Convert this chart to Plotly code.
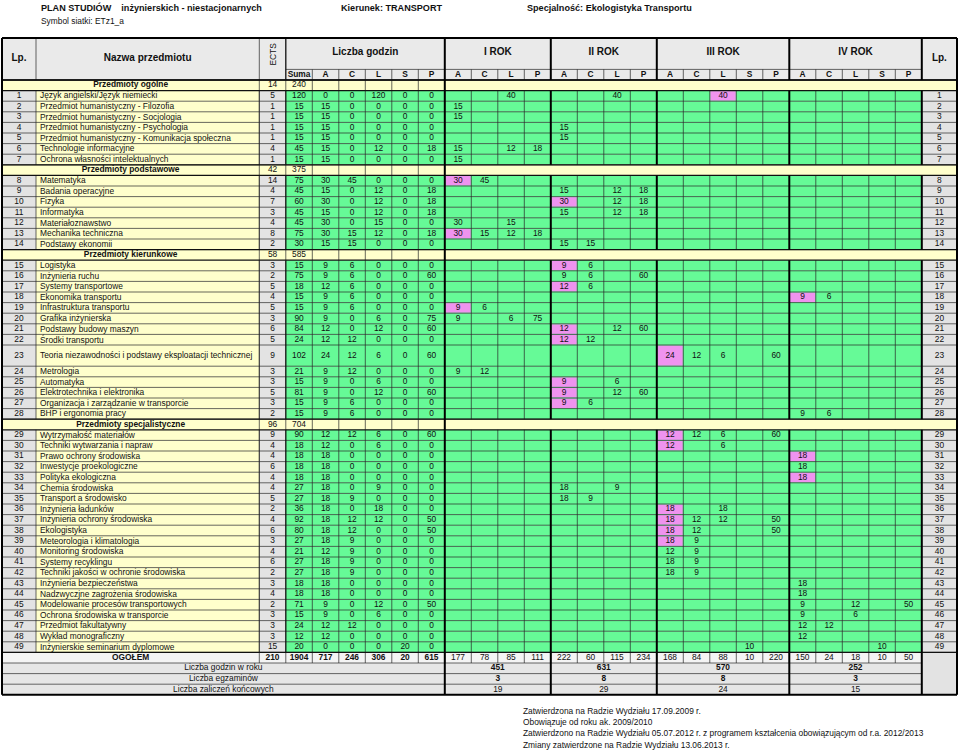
import plotly.graph_objects as go

# ---- dane ----
names = [
    "Język angielski/Język niemiecki",
    "Przedmiot humanistyczny - Filozofia",
    "Przedmiot humanistyczny - Socjologia",
    "Przedmiot humanistyczny - Psychologia",
    "Przedmiot humanistyczny - Komunikacja społeczna",
    "Technologie informacyjne",
    "Ochrona własności intelektualnych",
    "Matematyka",
    "Badania operacyjne",
    "Fizyka",
    "Informatyka",
    "Materiałoznawstwo",
    "Mechanika techniczna",
    "Podstawy ekonomii",
    "Logistyka",
    "Inżynieria ruchu",
    "Systemy transportowe",
    "Ekonomika transportu",
    "Infrastruktura transportu",
    "Grafika inżynierska",
    "Podstawy budowy maszyn",
    "Środki transportu",
    "Teoria niezawodności i podstawy eksploatacji technicznej",
    "Metrologia",
    "Automatyka",
    "Elektrotechnika i elektronika",
    "Organizacja i zarządzanie w transporcie",
    "BHP i ergonomia pracy",
    "Wytrzymałość materiałów",
    "Techniki wytwarzania i napraw",
    "Prawo ochrony środowiska",
    "Inwestycje proekologiczne",
    "Polityka ekologiczna",
    "Chemia środowiska",
    "Transport a środowisko",
    "Inżynieria ładunków",
    "Inżynieria ochrony środowiska",
    "Ekologistyka",
    "Meteorologia i klimatologia",
    "Monitoring środowiska",
    "Systemy recyklingu",
    "Techniki jakości w ochronie środowiska",
    "Inżynieria bezpieczeństwa",
    "Nadzwyczjne zagrożenia środowiska",
    "Modelowanie procesów transportowych",
    "Ochrona środowiska w transporcie",
    "Przedmiot fakultatywny",
    "Wykład monograficzny",
    "Inżynierskie seminarium dyplomowe",
]

ects = [5, 1, 1, 1, 1, 4, 1,
        14, 4, 7, 3, 4, 8, 2,
        3, 2, 5, 4, 5, 3, 6, 5, 9, 3, 3, 5, 3, 2,
        9, 4, 4, 6, 4, 4, 5, 2, 4, 6, 3, 4, 6, 2, 3, 4, 2, 3, 3, 3, 15]
suma = [120, 15, 15, 15, 15, 45, 15,
        75, 45, 60, 45, 45, 75, 30,
        15, 75, 18, 15, 15, 90, 84, 24, 102, 21, 15, 81, 15, 15,
        90, 18, 18, 18, 18, 27, 27, 36, 92, 80, 27, 21, 27, 27, 18, 18, 71, 15, 24, 12, 20]
godz_A = [0, 15, 15, 15, 15, 15, 15,
          30, 15, 30, 15, 30, 30, 15,
          9, 9, 12, 9, 9, 9, 12, 12, 24, 9, 9, 9, 9, 9,
          12, 12, 18, 18, 18, 18, 18, 18, 18, 18, 18, 12, 18, 18, 18, 18, 9, 9, 12, 12, 0]
godz_C = [0, 0, 0, 0, 0, 0, 0,
          45, 0, 0, 0, 0, 15, 15,
          6, 6, 6, 6, 6, 0, 0, 12, 12, 12, 0, 0, 6, 6,
          12, 0, 0, 0, 0, 0, 9, 0, 12, 12, 9, 9, 9, 9, 0, 0, 0, 0, 12, 0, 0]
godz_L = [120, 0, 0, 0, 0, 12, 0,
          0, 12, 12, 12, 15, 12, 0,
          0, 0, 0, 0, 0, 6, 12, 0, 6, 0, 6, 12, 0, 0,
          6, 6, 0, 0, 0, 9, 0, 18, 12, 0, 0, 0, 0, 0, 0, 0, 12, 6, 0, 0, 0]
godz_S = [0] * 48 + [20]
godz_P = [0, 0, 0, 0, 0, 18, 0,
          0, 18, 18, 18, 0, 18, 0,
          0, 60, 0, 0, 0, 75, 60, 0, 60, 0, 0, 60, 0, 0,
          60, 0, 0, 0, 0, 0, 0, 0, 50, 50, 0, 0, 0, 0, 0, 0, 50, 0, 0, 0, 0]

sekcje = [("Przedmioty ogólne", 1, 14, 240),
          ("Przedmioty podstawowe", 8, 42, 375),
          ("Przedmioty kierunkowe", 15, 58, 585),
          ("Przedmioty specjalistyczne", 29, 96, 704)]

# (lp, forma, godziny)
rok1 = [(1, "L", 40), (2, "A", 15), (3, "A", 15), (6, "A", 15), (6, "L", 12), (6, "P", 18), (7, "A", 15),
        (8, "A", 30), (8, "C", 45), (12, "A", 30), (12, "L", 15), (13, "A", 30), (13, "C", 15),
        (13, "L", 12), (13, "P", 18), (19, "A", 9), (19, "C", 6), (20, "A", 9), (20, "L", 6),
        (20, "P", 75), (24, "A", 9), (24, "C", 12)]
rok2 = [(1, "L", 40), (4, "A", 15), (5, "A", 15), (9, "A", 15), (9, "L", 12), (9, "P", 18),
        (10, "A", 30), (10, "L", 12), (10, "P", 18), (11, "A", 15), (11, "L", 12), (11, "P", 18),
        (14, "A", 15), (14, "C", 15), (15, "A", 9), (15, "C", 6), (16, "A", 9), (16, "C", 6),
        (16, "P", 60), (17, "A", 12), (17, "C", 6), (21, "A", 12), (21, "L", 12), (21, "P", 60),
        (22, "A", 12), (22, "C", 12), (25, "A", 9), (25, "L", 6), (26, "A", 9), (26, "L", 12),
        (26, "P", 60), (27, "A", 9), (27, "C", 6), (34, "A", 18), (34, "L", 9), (35, "A", 18), (35, "C", 9)]
rok3 = [(1, "L", 40), (23, "A", 24), (23, "C", 12), (23, "L", 6), (23, "P", 60),
        (29, "A", 12), (29, "C", 12), (29, "L", 6), (29, "P", 60), (30, "A", 12), (30, "L", 6),
        (36, "A", 18), (36, "L", 18), (37, "A", 18), (37, "C", 12), (37, "L", 12), (37, "P", 50),
        (38, "A", 18), (38, "C", 12), (38, "P", 50), (39, "A", 18), (39, "C", 9), (40, "A", 12),
        (40, "C", 9), (41, "A", 18), (41, "C", 9), (42, "A", 18), (42, "C", 9), (49, "S", 10)]
rok4 = [(18, "A", 9), (18, "C", 6), (28, "A", 9), (28, "C", 6), (31, "A", 18), (32, "A", 18),
        (33, "A", 18), (43, "A", 18), (44, "A", 18), (45, "A", 9), (45, "L", 12), (45, "P", 50),
        (46, "A", 9), (46, "L", 6), (47, "A", 12), (47, "C", 12), (48, "A", 12), (49, "S", 10)]

# egzaminy (komorki rozowe): (rok, lp, forma)
egzaminy = [(0, 8, "A"), (0, 13, "A"), (0, 19, "A"),
            (1, 10, "A"), (1, 15, "A"), (1, 17, "A"), (1, 21, "A"), (1, 22, "A"),
            (1, 25, "A"), (1, 26, "A"), (1, 27, "A"),
            (2, 1, "L"), (2, 23, "A"), (2, 29, "A"), (2, 30, "A"), (2, 36, "A"),
            (2, 37, "A"), (2, 38, "A"), (2, 39, "A"),
            (3, 18, "A"), (3, 31, "A"), (3, 33, "A")]

ogolem_ects = 210
ogolem_godz = [1904, 717, 246, 306, 20, 615]
ogolem_lata = [[177, 78, 85, 111], [222, 60, 115, 234], [168, 84, 88, 10, 220], [150, 24, 18, 10, 50]]
godziny_w_roku = [451, 631, 570, 252]
liczba_egzaminow = [3, 8, 8, 3]
liczba_zaliczen = [19, 29, 24, 15]

lata = [("I ROK", ["A", "C", "L", "P"], rok1),
        ("II ROK", ["A", "C", "L", "P"], rok2),
        ("III ROK", ["A", "C", "L", "S", "P"], rok3),
        ("IV ROK", ["A", "C", "L", "S", "P"], rok4)]
godz_cols = ["Suma", "A", "C", "L", "S", "P"]

# ---- geometria ----
FONT = "Liberation Sans, Arial, sans-serif"
FS = 8.4
X_L, X_LP, X_NAZ, X_R = 2, 36, 259.3, 957
CW = 26.5
Y_TOP, Y_SUB, Y_BODY, RH = 38, 69.4, 80, 10.6

HEAD_BG = "#eaeaea"
YEL = "#ffffcc"
GRAY = "#e3e3e3"
GREEN = "#66fa97"
PINK = "#ef93ef"
OG_BG = "#f4f4f4"


def ce(i):
    return X_NAZ + CW * i


def cx(i):
    return X_NAZ + CW * (i + 0.5)


year_start = []
k = 7
for _, cols, _ in lata:
    year_start.append(k)
    k += len(cols)
X_END = ce(k)  # 25 columns

shapes = []


def rect(x0, x1, y0, y1, color):
    shapes.append(dict(type="rect", xref="x", yref="y", x0=x0, x1=x1, y0=y0, y1=y1,
                       fillcolor=color, line=dict(width=0), layer="below"))


lines = {"thin": ([], []), "mid": ([], []), "thick": ([], [])}


def seg(kind, x0, y0, x1, y1):
    lines[kind][0].extend([x0, x1, None])
    lines[kind][1].extend([y0, y1, None])


txt = dict(x=[], y=[], t=[], s=[], c=[])


def put(x, y, t, size=FS, bold=False, color="#111"):
    txt["x"].append(x)
    txt["y"].append(y)
    txt["t"].append("<b>%s</b>" % t if bold else str(t))
    txt["s"].append(size)
    txt["c"].append(color)


annotations = []


def left_text(x, y, t, size=FS, bold=False, yshift=0):
    annotations.append(dict(x=x, y=y, xref="x", yref="y", text="<b>%s</b>" % t if bold else t,
                            showarrow=False, xanchor="left", yanchor="middle", yshift=yshift,
                            font=dict(family=FONT, size=size, color="#111")))


# ---- naglowek ----
rect(X_L, X_R, Y_TOP, Y_BODY, HEAD_BG)
put((X_L + X_LP) / 2, 58.5, "Lp.", 10, True)
put((X_LP + X_NAZ) / 2, 58.5, "Nazwa przedmiotu", 10, True)
put(X_END + (X_R - X_END) / 2, 58.5, "Lp.", 10, True)
annotations.append(dict(x=cx(0), y=54, xref="x", yref="y", text="ECTS", textangle=-90,
                        showarrow=False, font=dict(family=FONT, size=FS, color="#111")))
put((ce(1) + ce(7)) / 2, 52.5, "Liczba godzin", 10, True)
for j, c in enumerate(godz_cols):
    put(cx(1 + j), 74.7, c, FS, True)
for (lab, cols, _), s in zip(lata, year_start):
    put((ce(s) + ce(s + len(cols))) / 2, 52.5, lab, 10, True)
    for j, c in enumerate(cols):
        put(cx(s + j), 74.7, c, FS, True)

seg("thin", ce(1), Y_SUB, X_END, Y_SUB)
for i in [X_LP, X_NAZ]:
    seg("thin", i, Y_TOP, i, Y_BODY)
seg("mid", ce(1), Y_TOP, ce(1), Y_BODY)
for i in range(2, 25):
    if i not in year_start:
        seg("thin", ce(i), Y_SUB, ce(i), Y_BODY)
seg("mid", X_L, Y_BODY, X_R, Y_BODY)

# ---- wiersze ----
exam_set = {(r, lp, f) for r, lp, f in egzaminy}
cell_vals = {}
for r, (_, cols, wpisy) in enumerate(lata):
    for lp, f, v in wpisy:
        cell_vals[(lp, year_start[r] + cols.index(f))] = (v, (r, lp, f) in exam_set)

y = Y_BODY
block_start = None
blocks = []
for lp in range(1, 50):
    for nazwa, first, s_ects, s_suma in sekcje:
        if first == lp:
            if block_start is not None:
                blocks.append((block_start, y))
            y0, y1 = y, y + RH
            rect(X_L, X_R, y0, y1, YEL)
            ym = (y0 + y1) / 2
            put((X_L + X_NAZ) / 2, ym, nazwa, FS, True)
            put(cx(0), ym, s_ects)
            put(cx(1), ym, s_suma)
            seg("mid", X_L, y0, X_R, y0)
            seg("mid", X_L, y1, X_R, y1)
            for i in range(0, 7):
                seg("thin", ce(i), y0, ce(i), y1)
            y = y1
            block_start = y
    i = lp - 1
    hgt = 2 * RH if lp == 23 else RH
    y0, y1 = y, y + hgt
    ym = (y0 + y1) / 2
    rect(X_L, X_LP, y0, y1, GRAY)
    rect(X_LP, X_NAZ, y0, y1, YEL)
    rect(ce(0), ce(1), y0, y1, GRAY)
    rect(ce(1), X_END, y0, y1, GREEN)
    rect(X_END, X_R, y0, y1, GRAY)
    put((X_L + X_LP) / 2, ym, lp)
    put(X_END + (X_R - X_END) / 2, ym, lp)
    left_text(X_LP + 1.5, ym, names[i], yshift=0.5)
    put(cx(0), ym, ects[i])
    for j, v in enumerate([suma[i], godz_A[i], godz_C[i], godz_L[i], godz_S[i], godz_P[i]]):
        put(cx(1 + j), ym, v)
    for (lpk, col), (v, pink) in cell_vals.items():
        if lpk == lp:
            if pink:
                rect(ce(col) + 0.5, ce(col + 1) - 0.5, y0 + 0.5, y1 - 0.5, PINK)
            put(cx(col), ym, v)
    seg("thin", X_L, y1, X_R, y1)
    y = y1
blocks.append((block_start, y))

for b0, b1 in blocks:
    for xv in [X_LP, X_NAZ] + [ce(i) for i in range(0, 25)]:
        if xv in [ce(s) for s in year_start]:
            continue
        seg("mid" if xv == ce(1) else "thin", xv, b0, xv, b1)

# ---- OGOLEM i podsumowania ----
y0, y1 = y, y + RH
ym = (y0 + y1) / 2
rect(X_L, X_END, y0, y1, OG_BG)
rect(X_END, X_R, y0, y0 + 4 * RH, GRAY)
put((X_L + X_NAZ) / 2, ym, "OGÓŁEM", FS, True)
put(cx(0), ym, ogolem_ects, FS, True)
for j, v in enumerate(ogolem_godz):
    put(cx(1 + j), ym, v, FS, True)
for r, vals in enumerate(ogolem_lata):
    for j, v in enumerate(vals):
        put(cx(year_start[r] + j), ym, v)
seg("mid", X_L, y0, X_R, y0)
for i in range(0, 25):
    seg("thin", ce(i), y0, ce(i), y1)
y_og = y0
y = y1

bottom_rows = [("Liczba godzin w roku", godziny_w_roku, True),
               ("Liczba egzaminów", liczba_egzaminow, True),
               ("Liczba zaliczeń końcowych", liczba_zaliczen, False)]
for lab, vals, bold in bottom_rows:
    y0, y1 = y, y + RH
    ym = (y0 + y1) / 2
    rect(X_L, X_END, y0, y1, "#e6e6e6")
    seg("thin", X_L, y0, X_END, y0)
    put((X_L + ce(7)) / 2, ym, lab)
    for r, v in enumerate(vals):
        s = year_start[r]
        put((ce(s) + ce(s + len(lata[r][1]))) / 2, ym, v, FS, bold)
    y = y1
Y_BOT = y

# pionowe linie grube: granice lat
for s in year_start + [25]:
    if s == 7:
        seg("thick", ce(s), Y_TOP, ce(s), Y_BOT)
    else:
        seg("thick", ce(s), Y_TOP, ce(s), Y_BODY)
        for b0, b1 in blocks:
            seg("thick", ce(s), b0, ce(s), b1)
        seg("thick", ce(s), y_og, ce(s), Y_BOT)

# ramka
for a in [(X_L, Y_TOP, X_R, Y_TOP), (X_L, Y_BOT, X_R, Y_BOT),
          (X_L, Y_TOP, X_L, Y_BOT), (X_R, Y_TOP, X_R, Y_BOT)]:
    seg("thick", *a)

# ---- teksty nad i pod tabela ----
left_text(39, 7.5, "PLAN STUDIÓW\u00a0\u00a0\u00a0 inżynierskich - niestacjonarnych", 9.1, True)
left_text(339, 7.5, "Kierunek: TRANSPORT", 9.1, True)
left_text(525, 7.5, "Specjalność: Ekologistyka Transportu", 9.1, True)
left_text(39, 21, "Symbol siatki: ETz1_a", FS)
footer = ["Zatwierdzona na Radzie Wydziału 17.09.2009 r.",
          "Obowiązuje od roku ak. 2009/2010",
          "Zatwierdzono na Radzie Wydziału 05.07.2012 r. z programem kształcenia obowiązującym od r.a. 2012/2013",
          "Zmiany zatwierdzone na Radzie Wydziału 13.06.2013 r."]
for n, line in enumerate(footer):
    left_text(521, 711 + n * 11.2, line, FS)

fig = go.Figure()
styles = {"thin": ("#262626", 0.7), "mid": ("#111111", 1.3), "thick": ("#000000", 2)}
for kind, (xs, ys) in lines.items():
    col, w = styles[kind]
    fig.add_trace(go.Scatter(x=xs, y=ys, mode="lines", line=dict(color=col, width=w),
                             hoverinfo="skip", showlegend=False))
fig.add_trace(go.Scatter(x=txt["x"], y=txt["y"], text=txt["t"], mode="text",
                         textposition="middle center",
                         textfont=dict(family=FONT, size=txt["s"], color=txt["c"]),
                         hoverinfo="skip", showlegend=False))

fig.update_layout(
    width=960,
    height=750,
    margin=dict(l=0, r=0, t=0, b=0),
    paper_bgcolor="white",
    plot_bgcolor="white",
    xaxis=dict(range=[0, 960], visible=False, fixedrange=True),
    yaxis=dict(range=[750, 0], visible=False, fixedrange=True),
    shapes=shapes,
    annotations=annotations,
)

# bez marginesu strony, zeby figura zaczynala sie w rogu okna
fig.write_html("out.html", config={"displayModeBar": False},
               post_script="document.body.style.margin='0';")
